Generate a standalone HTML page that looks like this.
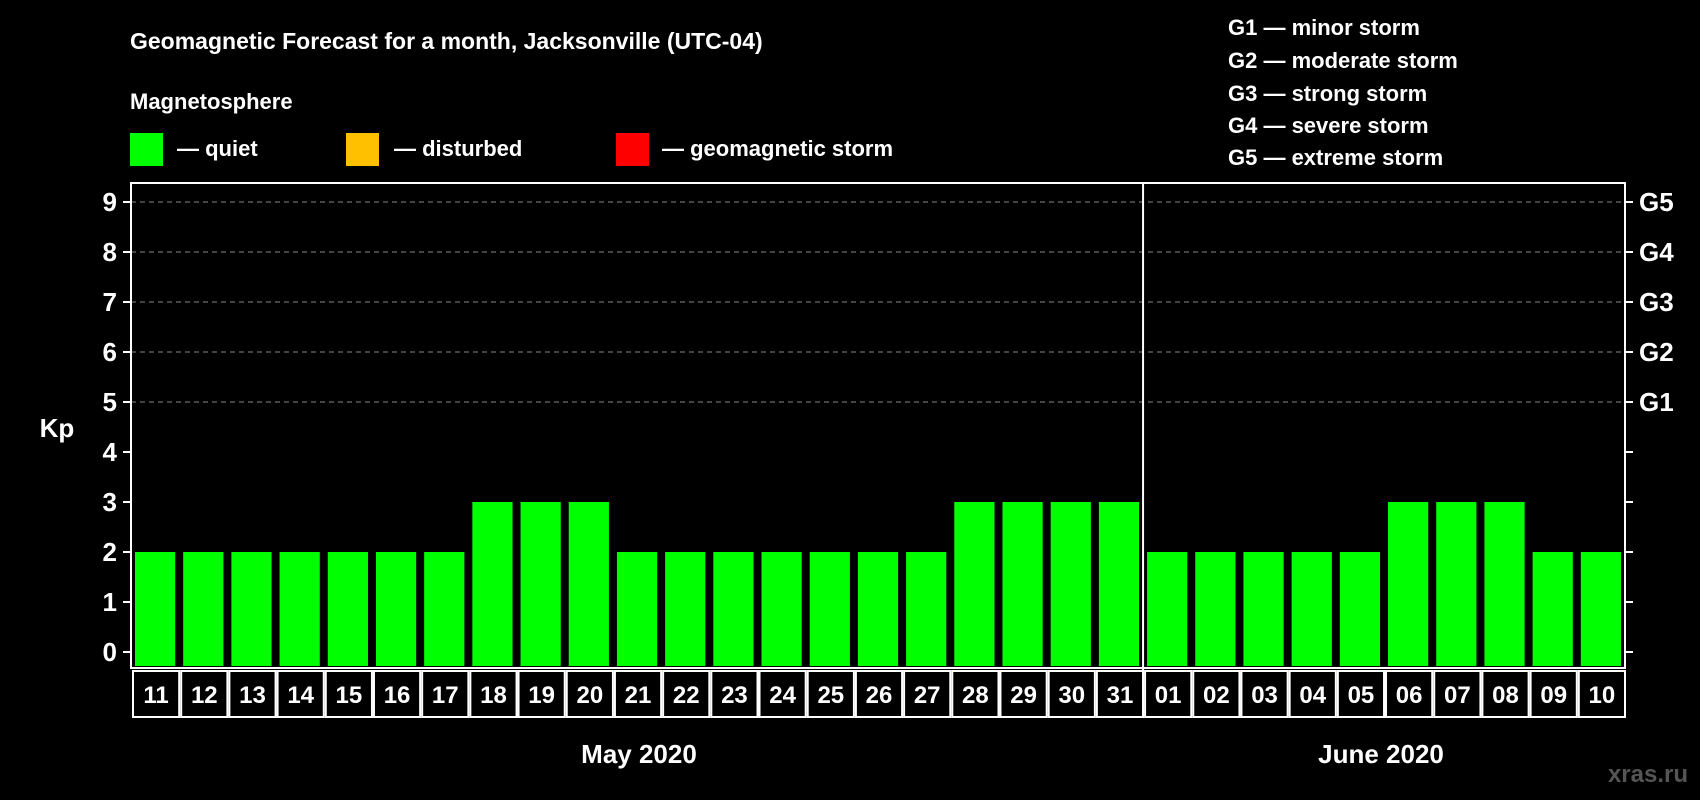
<!DOCTYPE html>
<html><head><meta charset="utf-8"><style>
html,body{margin:0;padding:0;background:#000;}
svg{display:block;font-family:"Liberation Sans",Arial,sans-serif;font-weight:bold;}
</style></head><body>
<svg id="c" width="1700" height="800" viewBox="0 0 1700 800">
<rect width="1700" height="800" fill="#000"/>
<text x="130" y="49" fill="#fff" font-size="23">Geomagnetic Forecast for a month, Jacksonville (UTC-04)</text>
<text x="130" y="109" fill="#fff" font-size="22">Magnetosphere</text>
<g><rect x="130" y="133" width="33" height="33" fill="#00ff00"/><text x="177" y="156" fill="#fff" font-size="22">— quiet</text></g>
<g><rect x="346" y="133" width="33" height="33" fill="#ffc000"/><text x="394" y="156" fill="#fff" font-size="22">— disturbed</text></g>
<g><rect x="616" y="133" width="33" height="33" fill="#ff0000"/><text x="662" y="156" fill="#fff" font-size="22">— geomagnetic storm</text></g>
<g fill="#fff" font-size="22">
<text x="1228" y="35">G1 — minor storm</text>
<text x="1228" y="68">G2 — moderate storm</text>
<text x="1228" y="101">G3 — strong storm</text>
<text x="1228" y="133">G4 — severe storm</text>
<text x="1228" y="165">G5 — extreme storm</text>
</g>
<text x="57" y="437" fill="#fff" font-size="26" text-anchor="middle">Kp</text>
<text x="639" y="763" fill="#fff" font-size="26" text-anchor="middle">May 2020</text>
<text x="1381" y="763" fill="#fff" font-size="26" text-anchor="middle">June 2020</text>
<text x="1688" y="782" fill="#555" font-size="24" text-anchor="end">xras.ru</text>
<g id="plot"></g>
</svg>
<script>
const days=["11","12","13","14","15","16","17","18","19","20","21","22","23","24","25","26","27","28","29","30","31","01","02","03","04","05","06","07","08","09","10"];
const kpValues=[2,2,2,2,2,2,2,3,3,3,2,2,2,2,2,2,2,3,3,3,3,2,2,2,2,2,3,3,3,2,2];
const yTicks=[0,1,2,3,4,5,6,7,8,9];
const gLabels=["G1","G2","G3","G4","G5"];
const gLevels=[5,6,7,8,9];
const L=131,R=1625,T=183,B=668,Y0=652,Y9=202;
const n=days.length,cw=(R-L)/n;
const ns="http://www.w3.org/2000/svg";
const g=document.getElementById('plot');
function y(v){return Y0-(Y0-Y9)*v/9;}
function x(i){return L+i*cw;}
function mk(t,a){const e=document.createElementNS(ns,t);for(const k in a)e.setAttribute(k,a[k]);g.appendChild(e);return e;}
yTicks.forEach(v=>{
  if(v>=5){const l=mk('line',{x1:L,x2:R,y1:y(v),y2:y(v),stroke:'#888','stroke-dasharray':'5,4','stroke-width':1});
  
  }
  const t1=mk('line',{x1:L-8,x2:L,y1:y(v),y2:y(v),stroke:'#fff','stroke-width':2});
  
  
  const t2=mk('line',{x1:R,x2:R+8,y1:y(v),y2:y(v),stroke:'#fff','stroke-width':2});
  
  
  const tx=mk('text',{x:L-14,y:y(v)+9,fill:'#fff','font-size':26,'text-anchor':'end'});tx.textContent=v;
  
  
});
gLabels.forEach((s,i)=>{
  const tx=mk('text',{x:R+14,y:y(gLevels[i])+9,fill:'#fff','font-size':26});tx.textContent=s;
  
  
});
kpValues.forEach((v,i)=>{
  const col=v>=5?'#ff0000':(v>=4?'#ffc000':'#00ff00');
  const b=mk('rect',{x:x(i)+4,y:y(v),width:cw-8,height:B-2-y(v),fill:col});
  
  
  const c=mk('rect',{x:x(i)+2,y:B+3,width:cw-2,height:46,fill:'none',stroke:'#fff','stroke-width':2});
  
  
  const t=mk('text',{x:x(i)+cw/2+1,y:B+35,fill:'#fff','font-size':24,'text-anchor':'middle'});t.textContent=days[i];
  
  
});
const f=mk('rect',{x:L,y:T,width:R-L,height:B-T,fill:'none',stroke:'#fff','stroke-width':2});


const di=days.indexOf("01");
const d=mk('line',{x1:x(di),x2:x(di),y1:T,y2:B+50,stroke:'#fff','stroke-width':2});


</script>
</body></html>
